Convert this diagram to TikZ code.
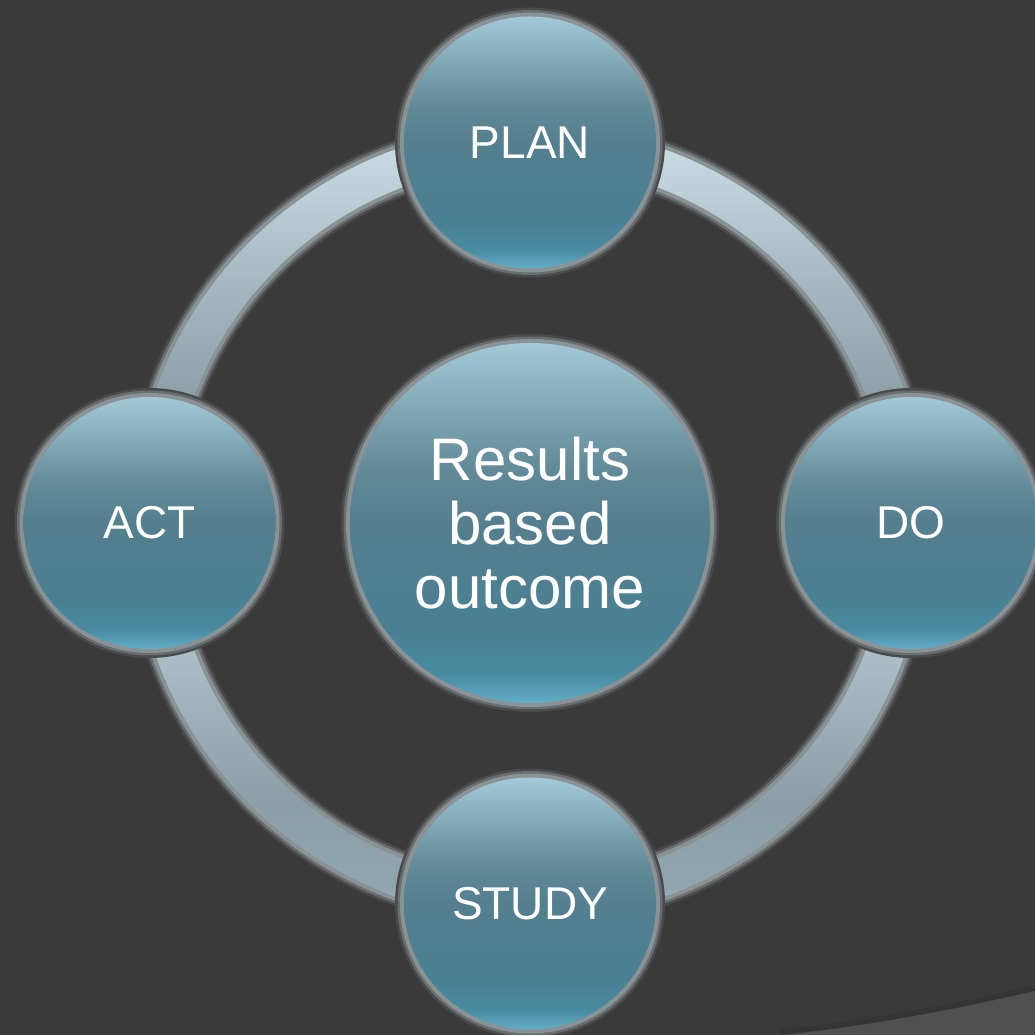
\documentclass[tikz,border=0pt]{standalone}
\usepackage{fontspec}
\setmainfont{Liberation Sans}
\definecolor{bgdark}{RGB}{58,58,58}
\definecolor{bglight}{RGB}{80,80,80}
\definecolor{haloA}{RGB}{72,74,75}
\definecolor{haloB}{RGB}{104,109,112}
\definecolor{haloC}{RGB}{138,146,150}
% bubble colours
\definecolor{bT}{RGB}{163,201,216}
\definecolor{bQ}{RGB}{98,138,153}
\definecolor{bM}{RGB}{84,127,142}
\definecolor{bL}{RGB}{73,128,147}
\definecolor{bL2}{RGB}{72,138,160}
\definecolor{bB}{RGB}{98,174,200}
% ring colours
\definecolor{rT}{RGB}{206,224,231}
\definecolor{rQ}{RGB}{165,184,192}
\definecolor{rM}{RGB}{140,159,167}
\definecolor{rL}{RGB}{144,165,174}
\definecolor{rB}{RGB}{180,207,219}
\pgfdeclareverticalshading{bubbleshade}{100bp}{color(0bp)=(bB); color(25bp)=(bB); color(29bp)=(bL2); color(35bp)=(bL); color(50bp)=(bM); color(57.5bp)=(bQ); color(75bp)=(bT); color(100bp)=(bT)}
\pgfdeclareverticalshading{ringshade}{100bp}{color(0bp)=(rB); color(25bp)=(rB); color(29bp)=(rL); color(40bp)=(rM); color(55bp)=(rQ); color(75bp)=(rT); color(100bp)=(rT)}
\tikzset{
  bubble/.style={circle, inner sep=0pt, outer sep=0pt, shading=bubbleshade, text=white,
    preaction={draw=haloA, line width=18pt},
    preaction={draw=haloB, line width=13pt},
    preaction={draw=haloC, line width=8pt}},
  smallbubble/.style={bubble, minimum size=252pt, font=\fontsize{46}{50}\selectfont},
  bigbubble/.style={bubble, minimum size=360pt, align=center, font=\fontsize{60}{64}\selectfont},
  ringseg/.style={shading=ringshade}
}
\begin{document}
\begin{tikzpicture}[x=1pt,y=1pt]
\useasboundingbox (0,0) rectangle (1035,1035);
\clip (0,0) rectangle (1035,1035);
\fill[bgdark] (0,0) rectangle (1035,1035);
\fill[bglight] (780,0) .. controls (850,6) and (950,24) .. (1035,44) -- (1035,0) -- cycle;
\draw[black, opacity=0.08, line width=5pt] (780,3) .. controls (850,9) and (950,27) .. (1035,47);
\coordinate (C) at (530,512);
% ring halo
\draw[haloA, line width=56pt] (C) circle[radius=378];
\draw[haloB, line width=51pt] (C) circle[radius=378];
\draw[haloC, line width=46pt] (C) circle[radius=378];
% ring segments
\foreach \a in {0,90,180,270}{
  \shade[ringseg] ([shift={(\a:397)}]C) arc[start angle=\a, end angle=\a+90, radius=397]
    -- ([shift={(\a+90:359)}]C) arc[start angle=\a+90, end angle=\a, radius=359] -- cycle;
}
% nodes
\node[bigbubble] (res) at (C) {Results\\based\\outcome};
\node[smallbubble] (plan) at (530,892.5) {PLAN};
\node[smallbubble] (do) at (911,512) {DO};
\node[smallbubble] (study) at (530,131.5) {STUDY};
\node[smallbubble] (act) at (149.5,512) {ACT};
\end{tikzpicture}
\end{document}
